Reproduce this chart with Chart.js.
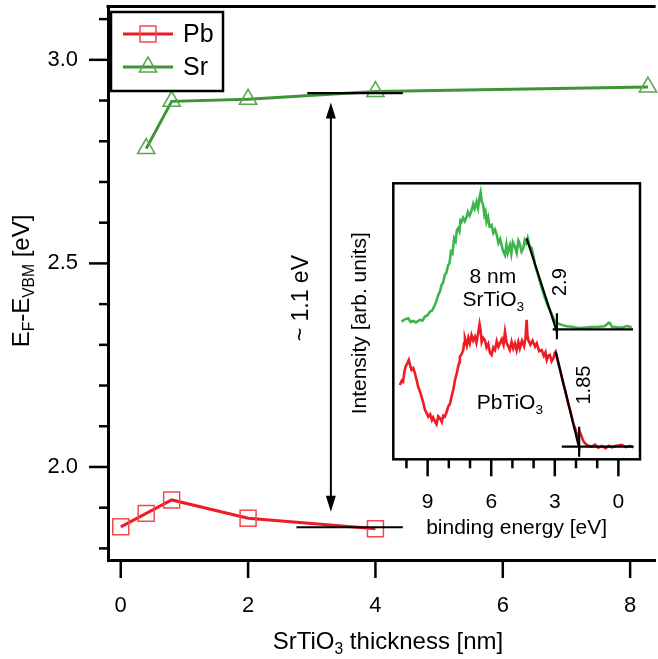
<!DOCTYPE html>
<html>
<head>
<meta charset="utf-8">
<script src="https://cdn.jsdelivr.net/npm/chart.js@4.4.1/dist/chart.umd.min.js"></script>
<style>
  html, body { margin: 0; padding: 0; background: #fff; }
  #wrap { position: relative; width: 658px; height: 659px; }
  #mainChart { position: absolute; left: 0; top: 0; }
  #insetChart { position: absolute; left: 340px; top: 175px; }
</style>
</head>
<body>
<div id="wrap">
  <canvas id="mainChart" width="658" height="659"></canvas>
  <canvas id="insetChart" width="310" height="370"></canvas>
</div>
<script>
// E_F - E_VBM versus SrTiO3 thickness
const pbThickness = [0, 0.4, 0.8, 2, 4];
const pbOffset = [1.853, 1.886, 1.919, 1.874, 1.848];
const srThickness = [0.4, 0.8, 2, 4, 8.28];
const srOffset = [2.782, 2.898, 2.903, 2.922, 2.933];

const xTicksMain = [0, 2, 4, 6, 8];
const yTicksMain = [2.0, 2.5, 3.0];
const yMinorMain = [1.8, 1.9, 2.1, 2.2, 2.3, 2.4, 2.6, 2.7, 2.8, 2.9, 3.1];

// reference levels and the ~1.1 eV gap between them
const srLevel = [[2.93, 2.918], [4.43, 2.918]];
const pbLevel = [[2.76, 1.852], [4.43, 1.852]];
const gapArrow = { x: 3.30, top: 2.895, bottom: 1.890 };

// inset: valence band spectra, [binding energy, intensity]
const beTicks = [9, 6, 3, 0];
const beMinor = [10, 8, 7, 5, 4, 2, 1];

const srSpectrum = [
  [10.23, 49.9], [10.1, 50.6], [9.92, 51.1], [9.8, 49.8], [9.68, 50.1], [9.55, 49.6], [9.37, 50.5],
  [9.25, 50.2], [9.13, 51.7], [9.0, 52.2], [8.89, 53.5], [8.78, 54.0], [8.66, 55.9], [8.58, 57.5],
  [8.50, 59.5], [8.42, 60.8], [8.34, 63.2], [8.27, 64.0], [8.19, 66.8], [8.12, 67.5], [8.03, 70.4],
  [7.97, 71.0], [7.90, 75.2], [7.83, 74.6], [7.75, 80.1], [7.68, 79.0], [7.62, 83.0], [7.56, 83.7],
  [7.50, 82.6], [7.45, 86.5], [7.40, 86.1], [7.33, 87.5], [7.25, 86.3], [7.16, 87.9], [7.10, 89.6],
  [7.02, 88.3], [6.92, 90.3], [6.85, 92.5], [6.78, 90.8], [6.69, 93.3], [6.62, 91.0], [6.55, 95.0],
  [6.50, 96.7], [6.45, 93.5], [6.38, 92.1], [6.32, 88.5], [6.27, 89.6], [6.22, 86.1], [6.15, 87.8],
  [6.08, 84.4], [5.98, 84.9], [5.90, 82.0], [5.82, 83.2], [5.74, 81.3], [5.66, 78.4], [5.58, 79.8],
  [5.51, 77.6], [5.45, 75.6], [5.35, 74.0], [5.28, 77.8], [5.22, 74.8], [5.12, 77.6], [5.05, 74.5],
  [4.98, 78.6], [4.88, 77.0], [4.80, 74.8], [4.72, 79.2], [4.65, 78.0], [4.57, 75.2], [4.49, 76.4],
  [4.42, 79.4], [4.35, 78.3], [4.28, 80.2], [4.20, 77.5], [4.09, 76.4], [4.0, 73.5], [3.93, 70.4],
  [3.82, 67.5], [3.70, 64.3], [3.58, 61.2], [3.46, 58.3], [3.35, 56.0], [3.23, 54.1], [3.1, 51.8],
  [2.99, 49.9], [2.85, 49.2], [2.67, 48.7], [2.45, 48.2], [2.20, 48.0], [1.9, 47.6], [1.57, 47.7],
  [1.25, 47.9], [0.94, 48.0], [0.65, 48.2], [0.45, 49.5], [0.39, 49.3], [0.3, 48.0], [0.05, 47.8],
  [-0.16, 47.7], [-0.4, 48.3], [-0.63, 47.8]
];

const pbSpectrum = [
  [10.31, 26.9], [10.22, 28.5], [10.16, 28.1], [10.1, 31.5], [10.04, 33.6], [9.96, 34.8], [9.89, 36.0],
  [9.83, 34.2], [9.76, 32.4], [9.68, 33.0], [9.60, 31.2], [9.52, 28.8], [9.45, 26.3], [9.37, 24.8],
  [9.29, 22.7], [9.2, 20.4], [9.13, 17.9], [9.05, 16.8], [8.97, 15.4], [8.88, 16.3], [8.80, 14.2],
  [8.74, 15.2], [8.66, 13.8], [8.58, 12.7], [8.50, 15.6], [8.42, 14.9], [8.33, 13.5], [8.26, 15.8],
  [8.19, 15.4], [8.1, 17.2], [8.03, 19.1], [7.95, 20.0], [7.87, 22.7], [7.78, 25.5], [7.71, 28.7],
  [7.63, 31.0], [7.56, 33.6], [7.50, 35.2], [7.48, 37.2], [7.40, 38.0], [7.32, 39.6], [7.28, 42.0],
  [7.24, 43.8], [7.15, 41.2], [7.08, 44.0], [7.01, 42.0], [6.93, 45.0], [6.85, 43.0], [6.77, 44.4],
  [6.70, 42.2], [6.62, 45.5], [6.55, 49.0], [6.50, 46.8], [6.45, 42.5], [6.38, 44.0], [6.30, 43.2],
  [6.22, 40.5], [6.14, 41.8], [6.06, 38.6], [5.98, 37.8], [5.90, 40.5], [5.82, 39.6], [5.74, 42.8],
  [5.66, 40.8], [5.59, 42.0], [5.50, 43.5], [5.42, 41.5], [5.35, 46.2], [5.27, 42.0], [5.20, 41.0],
  [5.12, 39.6], [5.04, 42.6], [4.96, 40.2], [4.88, 42.0], [4.80, 39.5], [4.72, 42.5], [4.65, 40.2],
  [4.55, 43.0], [4.45, 41.0], [4.38, 44.0], [4.33, 50.5], [4.29, 45.0], [4.25, 43.2], [4.15, 41.5],
  [4.05, 43.0], [3.93, 40.8], [3.85, 42.0], [3.74, 39.2], [3.62, 39.6], [3.52, 37.5], [3.44, 38.8],
  [3.38, 36.0], [3.30, 37.6], [3.23, 37.8], [3.15, 35.5], [3.07, 36.6], [3.0, 38.5], [2.96, 39.0],
  [2.85, 35.5], [2.75, 32.4], [2.68, 30.0], [2.60, 27.5], [2.52, 25.2], [2.44, 22.7], [2.36, 20.0],
  [2.28, 17.9], [2.2, 15.5], [2.13, 13.0], [2.02, 10.8], [1.95, 9.0], [1.89, 8.2], [1.80, 9.5],
  [1.73, 8.2], [1.65, 6.5], [1.57, 5.8], [1.45, 5.0], [1.26, 4.6], [1.1, 5.3], [0.95, 4.2],
  [0.78, 4.8], [0.6, 4.0], [0.45, 4.9], [0.31, 4.3], [0.15, 4.8], [-0.16, 5.2], [-0.35, 4.4],
  [-0.55, 4.9], [-0.71, 4.3]
];

// linear fits of the leading edges and the background
const srEdge = [[4.33, 80.1], [2.9, 46.2]];
const srBase = [[3.1, 47.1], [-0.69, 47.1]];
const srMark = [[2.9, 52.9], [2.9, 43.5]];
const pbEdge = [[2.96, 39.0], [1.83, 3.5]];
const pbBase = [[2.67, 4.6], [-0.71, 4.6]];
const pbMark = [[1.85, 11.8], [1.85, 0.9]];

const FONT = '"Liberation Sans", Arial, Helvetica, sans-serif';
const pbLine = '#ec1c24', pbMarker = '#ef4a50';
const srLine = '#3f9437', srMarker = '#56a64d';
const srSpec = '#3db54a', pbSpec = '#ee1c25';

const pts = arr => arr.map(p => ({ x: p[0], y: p[1] }));
const zip = (xs, ys) => xs.map((x, i) => ({ x: x, y: ys[i] }));
const font = size => size + 'px ' + FONT;

// keep the plot area where the layout padding puts it
function noLabelPadding(s) {
  s.paddingTop = 0;
  s.paddingBottom = 0;
  s.paddingLeft = 0;
  s.paddingRight = 0;
}

// text with subscripts: parts = [[text, isSub], ...]
function richText(ctx, parts, x, y, size) {
  let w = 0;
  parts.forEach(([t, sub]) => { ctx.font = font(sub ? size * 0.65 : size); w += ctx.measureText(t).width; });
  let cx = x - w / 2;
  ctx.textAlign = 'left';
  ctx.textBaseline = 'middle';
  parts.forEach(([t, sub]) => {
    ctx.font = font(sub ? size * 0.65 : size);
    ctx.fillText(t, cx, sub ? y + size * 0.33 : y);
    cx += ctx.measureText(t).width;
  });
}

function seg(ctx, x1, y1, x2, y2) {
  ctx.beginPath();
  ctx.moveTo(x1, y1);
  ctx.lineTo(x2, y2);
  ctx.stroke();
}

const mainDecor = {
  id: 'mainDecor',
  afterDraw(chart) {
    const ctx = chart.ctx, area = chart.chartArea;
    const xs = chart.scales.x, ys = chart.scales.y;
    ctx.save();
    ctx.strokeStyle = '#000';
    ctx.fillStyle = '#000';

    // top frame line
    ctx.lineWidth = 3;
    seg(ctx, area.left - 1.5, area.top, area.right, area.top);

    // tick marks
    ctx.lineWidth = 2.5;
    yTicksMain.forEach(v => { const p = ys.getPixelForValue(v); seg(ctx, area.left - 19, p, area.left, p); });
    yMinorMain.forEach(v => { const p = ys.getPixelForValue(v); seg(ctx, area.left - 9, p, area.left, p); });
    xTicksMain.forEach(v => { const p = xs.getPixelForValue(v); seg(ctx, p, area.bottom, p, area.bottom + 18); });

    // double arrow for the offset
    const ax = xs.getPixelForValue(gapArrow.x);
    const a1 = ys.getPixelForValue(gapArrow.top), a2 = ys.getPixelForValue(gapArrow.bottom);
    ctx.lineWidth = 2;
    seg(ctx, ax, a1 + 10, ax, a2 - 10);
    ctx.beginPath();
    ctx.moveTo(ax, a1); ctx.lineTo(ax - 5, a1 + 16); ctx.lineTo(ax + 5, a1 + 16); ctx.closePath();
    ctx.moveTo(ax, a2); ctx.lineTo(ax - 5, a2 - 16); ctx.lineTo(ax + 5, a2 - 16); ctx.closePath();
    ctx.fill();

    ctx.save();
    ctx.translate(ax - 29, (a1 + a2) / 2 - 9);
    ctx.rotate(-Math.PI / 2);
    ctx.font = font(23);
    ctx.textAlign = 'center';
    ctx.textBaseline = 'middle';
    ctx.fillText('~ 1.1 eV', 0, 0);
    ctx.restore();

    // axis titles
    richText(ctx, [['SrTiO', false], ['3', true], [' thickness [nm]', false]], 388, 642, 24);
    ctx.save();
    ctx.translate(22, 281);
    ctx.rotate(-Math.PI / 2);
    richText(ctx, [['E', false], ['F', true], ['-E', false], ['VBM', true], [' [eV]', false]], 0, 0, 24);
    ctx.restore();

    // legend
    const lx = 111, ly = 12, lw = 112, lh = 79;
    ctx.fillStyle = '#fff';
    ctx.fillRect(lx, ly, lw, lh);
    ctx.strokeStyle = '#000';
    ctx.lineWidth = 2.5;
    ctx.strokeRect(lx, ly, lw, lh);
    chart.data.datasets.slice(0, 2).forEach((ds, i) => {
      const y = ly + 22 + i * 33;
      ctx.strokeStyle = ds.borderColor;
      ctx.lineWidth = ds.borderWidth;
      seg(ctx, 123, y, 173, y);
      ctx.strokeStyle = ds.pointBorderColor;
      ctx.fillStyle = 'rgba(0,0,0,0)';
      ctx.lineWidth = ds.pointBorderWidth;
      Chart.helpers.drawPoint(ctx, {
        pointStyle: ds.pointStyle, radius: ds.pointRadius, borderWidth: ds.pointBorderWidth, rotation: 0
      }, 148, y);
      ctx.fillStyle = '#000';
      ctx.font = font(25);
      ctx.textAlign = 'left';
      ctx.textBaseline = 'middle';
      ctx.fillText(ds.label, 183, y + 1);
    });
    ctx.restore();
  }
};

new Chart(document.getElementById('mainChart'), {
  type: 'line',
  data: {
    datasets: [
      {
        label: 'Pb', data: zip(pbThickness, pbOffset),
        borderColor: pbLine, borderWidth: 3,
        pointStyle: 'rect', pointRadius: 11.3, pointBorderWidth: 1.5,
        pointBorderColor: pbMarker, pointBackgroundColor: 'rgba(0,0,0,0)',
        clip: false, order: 2
      },
      {
        label: 'Sr', data: zip(srThickness, srOffset),
        borderColor: srLine, borderWidth: 3,
        pointStyle: 'triangle', pointRadius: 10, pointBorderWidth: 1.5,
        pointBorderColor: srMarker, pointBackgroundColor: 'rgba(0,0,0,0)',
        clip: false, order: 2
      },
      { label: 'Sr level', data: pts(srLevel), borderColor: '#000', borderWidth: 2.2, pointRadius: 0, order: 0 },
      { label: 'Pb level', data: pts(pbLevel), borderColor: '#000', borderWidth: 2.2, pointRadius: 0, order: 0 }
    ]
  },
  options: {
    responsive: false,
    devicePixelRatio: 1,
    animation: false,
    events: [],
    layout: { autoPadding: false, padding: { left: 0, top: 6.5, right: 2.4, bottom: 0 } },
    plugins: { legend: { display: false }, tooltip: { enabled: false } },
    elements: { line: { tension: 0 } },
    scales: {
      x: {
        type: 'linear', min: -0.2, max: 8.4,
        afterFit: s => { s.height = 99; noLabelPadding(s); },
        afterBuildTicks: s => { s.ticks = xTicksMain.map(v => ({ value: v })); },
        grid: { drawOnChartArea: false, drawTicks: false },
        border: { display: true, color: '#000', width: 3 },
        ticks: { color: '#000', font: { family: FONT, size: 22 }, padding: 33, autoSkip: false, maxRotation: 0, callback: v => String(v) }
      },
      y: {
        type: 'linear', min: 1.7715, max: 3.131,
        afterFit: s => { s.width = 108; noLabelPadding(s); },
        afterBuildTicks: s => { s.ticks = yTicksMain.map(v => ({ value: v })); },
        grid: { drawOnChartArea: false, drawTicks: false },
        border: { display: true, color: '#000', width: 3 },
        ticks: { color: '#000', font: { family: FONT, size: 22 }, padding: 30, autoSkip: false, callback: v => v.toFixed(1) }
      }
    }
  },
  plugins: [mainDecor]
});

const insetDecor = {
  id: 'insetDecor',
  beforeDatasetsDraw(chart) {
    const ctx = chart.ctx, a = chart.chartArea;
    ctx.save();
    ctx.fillStyle = '#fff';
    ctx.fillRect(a.left, a.top, a.right - a.left, a.bottom - a.top);
    ctx.restore();
  },
  afterDraw(chart) {
    const ctx = chart.ctx, a = chart.chartArea;
    const xs = chart.scales.x, ys = chart.scales.y;
    ctx.save();
    ctx.strokeStyle = '#000';
    ctx.fillStyle = '#000';
    ctx.lineWidth = 2.5;
    ctx.strokeRect(a.left, a.top, a.right - a.left, a.bottom - a.top);
    beTicks.forEach(v => { const p = xs.getPixelForValue(v); seg(ctx, p, a.bottom, p, a.bottom + 17); });
    beMinor.forEach(v => { const p = xs.getPixelForValue(v); seg(ctx, p, a.bottom, p, a.bottom + 9); });

    const at = (e, i) => [xs.getPixelForValue(e), ys.getPixelForValue(i)];
    let p = at(5.92, 66.0);
    ctx.font = font(21);
    ctx.textAlign = 'center';
    ctx.textBaseline = 'middle';
    ctx.fillText('8 nm', p[0], p[1]);
    p = at(5.9, 57.7);
    richText(ctx, [['SrTiO', false], ['3', true]], p[0], p[1], 21);
    p = at(5.12, 20.4);
    richText(ctx, [['PbTiO', false], ['3', true]], p[0], p[1], 21);

    ctx.font = font(20);
    ctx.textAlign = 'center';
    [['2.9', 2.75, 64.2], ['1.85', 1.62, 26.9]].forEach(([t, e, i]) => {
      const q = at(e, i);
      ctx.save();
      ctx.translate(q[0], q[1]);
      ctx.rotate(-Math.PI / 2);
      ctx.fillText(t, 0, 0);
      ctx.restore();
    });

    ctx.font = font(21);
    ctx.fillText('binding energy [eV]', (a.left + a.right) / 2, a.bottom + 69);
    ctx.save();
    ctx.translate(a.left - 33, (a.top + a.bottom) / 2 + 2);
    ctx.rotate(-Math.PI / 2);
    ctx.fillText('Intensity [arb. units]', 0, 0);
    ctx.restore();
    ctx.restore();
  }
};

const fitLine = arr => ({ data: pts(arr), borderColor: '#000', borderWidth: 2.2, pointRadius: 0, order: 0 });

new Chart(document.getElementById('insetChart'), {
  type: 'line',
  data: {
    datasets: [
      { data: pts(srSpectrum), borderColor: srSpec, borderWidth: 2.6, pointRadius: 0, order: 1 },
      { data: pts(pbSpectrum), borderColor: pbSpec, borderWidth: 2.6, pointRadius: 0, order: 1 },
      fitLine(srEdge), fitLine(srBase), fitLine(srMark),
      fitLine(pbEdge), fitLine(pbBase), fitLine(pbMark)
    ]
  },
  options: {
    responsive: false,
    devicePixelRatio: 1,
    animation: false,
    events: [],
    layout: { autoPadding: false, padding: { left: 53.3, top: 8.3, right: 10, bottom: 0 } },
    plugins: { legend: { display: false }, tooltip: { enabled: false } },
    elements: { line: { tension: 0 } },
    scales: {
      x: {
        type: 'linear', reverse: true, min: -1.02, max: 10.62,
        afterFit: s => { s.height = 85.7; noLabelPadding(s); },
        afterBuildTicks: s => { s.ticks = beTicks.map(v => ({ value: v })); },
        grid: { drawOnChartArea: false, drawTicks: false },
        border: { display: false },
        ticks: { color: '#000', font: { family: FONT, size: 21 }, padding: 30, autoSkip: false, maxRotation: 0, callback: v => String(v) }
      },
      y: { type: 'linear', display: false, min: 0, max: 100 }
    }
  },
  plugins: [insetDecor]
});
</script>
</body>
</html>
